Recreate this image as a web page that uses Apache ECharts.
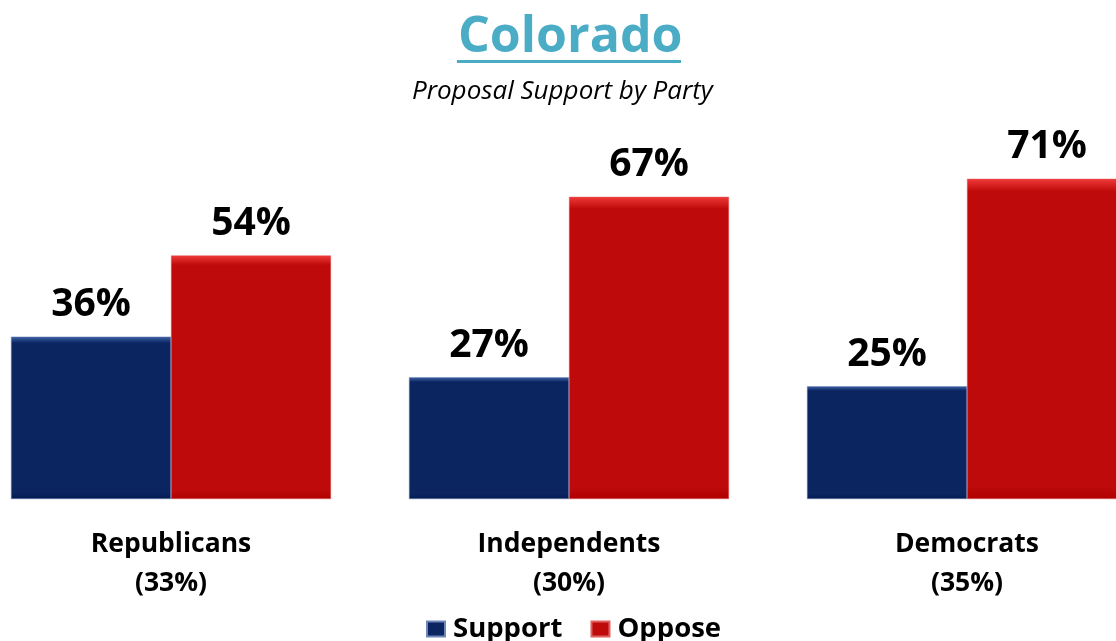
<!DOCTYPE html>
<html><head><meta charset="utf-8">
<script src="https://cdn.jsdelivr.net/npm/echarts@6/dist/echarts.min.js"></script>
<style>html,body{margin:0;padding:0;background:#fff}#c{width:1116px;height:641px}</style>
</head><body><div id="c"></div>
<script>
const categories = ['Republicans', 'Independents', 'Democrats'];
const shares = ['33%', '30%', '35%'];
const support = [36, 27, 25];
const oppose = [54, 67, 71];
const seriesNames = ['Support', 'Oppose'];
const titleText = 'Colorado';
const subtitleText = 'Proposal Support by Party';

const F = 'Open Sans';
function grad(top, main, bottom) {
  return new echarts.graphic.LinearGradient(0, 0, 0, 1, [
    {offset: 0, color: top}, {offset: 0.04, color: main},
    {offset: 0.96, color: main}, {offset: 1, color: bottom}
  ]);
}
const chart = echarts.init(document.getElementById('c'));
const labelStyle = {show: true, position: 'top', distance: 12, formatter: '{c}%',
  fontFamily: F, fontWeight: 'bold', fontSize: 39, color: '#000'};
chart.setOption({
  animation: false,
  title: [{text: titleText, left: 453, top: 8,
    textStyle: {fontFamily: F, fontWeight: 'bold', fontSize: 50, color: '#4BACC6'}},
    {text: subtitleText, left: 407, top: 74,
    textStyle: {fontFamily: F, fontStyle: 'italic', fontWeight: 'normal', fontSize: 26, color: '#000'}}],
  graphic: [{type: 'rect', shape: {x: 457, y: 60, width: 224, height: 3}, style: {fill: '#4BACC6'}}],
  legend: {top: 610, left: 421, itemWidth: 18, itemHeight: 15, itemGap: 28, icon: 'rect',
    textStyle: {fontFamily: F, fontWeight: 'bold', fontSize: 27.5, color: '#000', padding: [0, 0, 0, 3]}},
  grid: {left: -28, width: 1194, top: 48, height: 451, containLabel: false, outerBoundsMode: 'none'},
  xAxis: {type: 'category',
    data: categories.map((c, i) => c + '\n(' + shares[i] + ')'),
    axisLine: {show: false}, axisTick: {show: false},
    axisLabel: {margin: 26, fontFamily: F, fontWeight: 'bold', fontSize: 26.5, lineHeight: 39, color: '#000'}},
  yAxis: {type: 'value', min: 0, max: 100, show: false, splitLine: {show: false}},
  series: [
    {name: seriesNames[0], type: 'bar', data: support, barGap: '0%', barCategoryGap: '19.6%',
      itemStyle: {color: grad('#3E63A8', '#0A2560', '#051A50'), borderColor: '#6E86B8', borderWidth: 0.5},
      label: labelStyle},
    {name: seriesNames[1], type: 'bar', data: oppose,
      itemStyle: {color: grad('#F03A3A', '#BE0A0A', '#B00000'), borderColor: '#E06060', borderWidth: 0.5},
      label: labelStyle}
  ],
  color: ['#0A2560', '#C00000']
});
</script></body></html>
